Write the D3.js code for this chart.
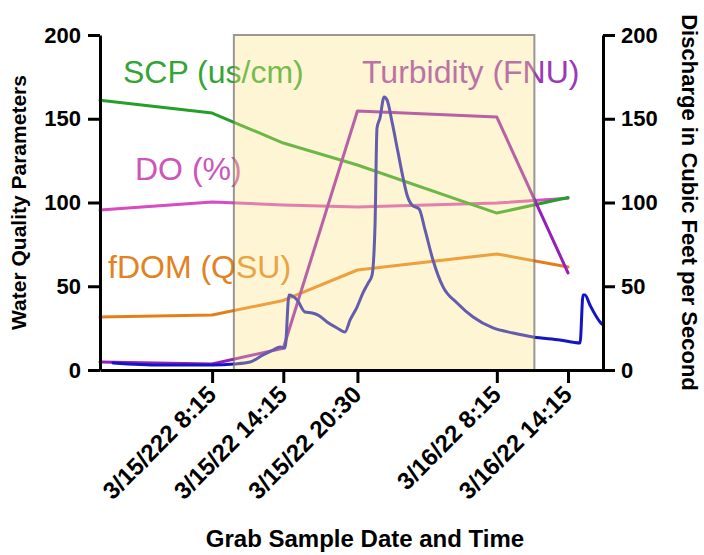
<!DOCTYPE html>
<meta charset="utf-8">
<title>Grab Samples and Discharge</title>
<style>
body {
  margin: 0;
  background: #fff;
}
text {
  font-family: "Liberation Sans", Arial, sans-serif;
}
.axis path, .axis line {
  stroke: #000;
  stroke-width: 3px;
}
.axis text {
  font-size: 22px;
  font-weight: bold;
  fill: #000;
}
.x.axis text {
  font-size: 24px;
}
.series {
  fill: none;
  stroke-width: 3px;
  stroke-linejoin: round;
  stroke-linecap: round;
}
</style>
<body>
<script src="https://d3js.org/d3.v7.min.js"></script>
<script>
// grab samples (left axis)
var sampleTimes = ["2022-03-14 22:48", "2022-03-15 08:15", "2022-03-15 14:15", "2022-03-15 20:30", "2022-03-16 08:15", "2022-03-16 14:15"];
var tickLabels = ["3/15/222 8:15", "3/15/22 14:15", "3/15/22 20:30", "3/16/22 8:15", "3/16/22 14:15"];
var scp = [161, 153.4, 135.5, 122.4, 93.7, 103];
var doPct = [95.5, 100.3, 98.5, 97.3, 99.7, 102.5];
var fdom = [31.6, 32.8, 41.5, 59.7, 69.3, 61.5];
var turbidity = [4.8, 3.6, 13, 154.6, 151, 58];

// discharge (right axis)
var dischargeTimes = [
  "2022-03-14 23:54", "2022-03-15 03:52", "2022-03-15 08:15", "2022-03-15 10:06", "2022-03-15 11:27",
  "2022-03-15 12:33", "2022-03-15 13:23", "2022-03-15 13:59", "2022-03-15 14:24", "2022-03-15 14:44",
  "2022-03-15 15:25", "2022-03-15 16:05", "2022-03-15 16:41", "2022-03-15 17:11", "2022-03-15 17:56",
  "2022-03-15 18:47", "2022-03-15 19:27", "2022-03-15 19:53", "2022-03-15 20:28", "2022-03-15 20:58",
  "2022-03-15 21:24", "2022-03-15 21:44", "2022-03-15 21:59", "2022-03-15 22:09", "2022-03-15 22:24",
  "2022-03-15 22:45", "2022-03-15 23:00", "2022-03-15 23:25", "2022-03-15 23:55", "2022-03-16 00:21",
  "2022-03-16 00:41", "2022-03-16 01:06", "2022-03-16 01:42", "2022-03-16 02:12", "2022-03-16 02:52",
  "2022-03-16 03:43", "2022-03-16 04:54", "2022-03-16 06:15", "2022-03-16 07:56", "2022-03-16 09:37",
  "2022-03-16 11:18", "2022-03-16 13:34", "2022-03-16 15:16", "2022-03-16 15:31", "2022-03-16 15:41",
  "2022-03-16 16:06", "2022-03-16 16:57", "2022-03-16 17:12"];
var discharge = [
  4.2, 3.0, 3.0, 3.6, 4.8,
  9.0, 11.9, 13.7, 13.1, 44.8,
  41.8, 34.6, 34.0, 32.8, 28.7,
  25.1, 22.7, 29.9, 37.6, 46.0,
  51.9, 56.7, 86.6, 144.5, 150.4,
  163.0, 161.2, 148.1, 130.1, 114.6,
  104.5, 98.5, 96.1, 83.6, 65.7,
  49.6, 40.0, 31.6, 25.1, 22.1,
  19.7, 17.9, 16.1, 44.8, 44.8,
  38.8, 28.7, 26.9];

var xDomain = ["2022-03-14 22:48", "2022-03-16 17:12"];
var shadeRange = ["2022-03-15 10:05", "2022-03-16 11:25"];
var yTicks = [0, 50, 100, 150, 200];

var parse = d3.timeParse("%Y-%m-%d %H:%M");

var w = 704,
    h = 555,
    m = {left: 100, right: 603, top: 35, bottom: 370};

var svg = d3.select("body").append("svg")
    .attr("width", w)
    .attr("height", h);

var x = d3.scaleTime()
    .domain(xDomain.map(parse))
    .range([m.left, m.right]);
var yL = d3.scaleLinear().domain([0, 200]).range([m.bottom, m.top]);
var yR = d3.scaleLinear().domain([0, 200]).range([m.bottom, m.top]);

var samples = sampleTimes.map(parse);

function series(values, yScale, times, curve) {
  return d3.line()
      .curve(curve || d3.curveLinear)
      .x(function(d, i) { return x(times[i]); })
      .y(function(d) { return yScale(d); })(values);
}

var lines = [
  {v: fdom, c: "rgb(230,125,25)"},
  {v: doPct, c: "rgb(215,75,195)"},
  {v: scp, c: "rgb(35,160,40)"},
  {v: turbidity, c: "rgb(150,30,185)"}
];

lines.forEach(function(s) {
  svg.append("path")
      .attr("class", "series")
      .attr("stroke", s.c)
      .attr("d", series(s.v, yL, samples));
});

svg.append("path")
    .attr("class", "series")
    .attr("stroke", "rgb(20,20,195)")
    .attr("d", series(discharge, yR, dischargeTimes.map(parse), d3.curveMonotoneX));

// series names
var names = [
  {t: "SCP (us/cm)", x: 123, y: 83, c: "rgb(50,165,50)"},
  {t: "DO (%)", x: 135, y: 180, c: "rgb(205,85,185)"},
  {t: "fDOM (QSU)", x: 108, y: 278, c: "rgb(225,130,35)"},
  {t: "Turbidity (FNU)", x: 362, y: 83, c: "rgb(155,55,185)"}
];
svg.selectAll(".name")
    .data(names)
  .enter().append("text")
    .attr("class", "name")
    .attr("x", function(d) { return d.x; })
    .attr("y", function(d) { return d.y; })
    .style("font-size", "32px")
    .style("fill", function(d) { return d.c; })
    .text(function(d) { return d.t; });

// storm window overlay
var s0 = parse(shadeRange[0]), s1 = parse(shadeRange[1]);
svg.append("rect")
    .attr("x", x(s0))
    .attr("y", m.top)
    .attr("width", x(s1) - x(s0))
    .attr("height", m.bottom - m.top)
    .attr("fill", "rgba(248,225,130,0.35)")
    .attr("stroke", "rgba(110,110,110,0.7)")
    .attr("stroke-width", 2);

// axes
svg.append("g")
    .attr("class", "axis")
    .attr("transform", "translate(" + m.left + ",0)")
    .call(d3.axisLeft(yL).tickValues(yTicks).tickSize(12).tickSizeOuter(0).tickPadding(7));

svg.append("g")
    .attr("class", "axis")
    .attr("transform", "translate(" + m.right + ",0)")
    .call(d3.axisRight(yR).tickValues(yTicks).tickSize(12).tickSizeOuter(0).tickPadding(6));

var xAxis = svg.append("g")
    .attr("class", "x axis")
    .attr("transform", "translate(0," + m.bottom + ")")
    .call(d3.axisBottom(x)
      .tickValues(samples.slice(1))
      .tickSize(13)
      .tickSizeOuter(0)
      .tickFormat(function(d, i) { return tickLabels[i]; }));

xAxis.selectAll("text")
    .attr("text-anchor", "end")
    .attr("dy", null)
    .attr("y", 0)
    .attr("transform", "translate(5,26) rotate(-45)");

svg.append("text")
    .attr("x", 365)
    .attr("y", 547)
    .attr("text-anchor", "middle")
    .style("font-size", "24px")
    .style("font-weight", "bold")
    .text("Grab Sample Date and Time");

svg.append("text")
    .attr("transform", "translate(26," + (m.top + m.bottom) / 2 + ") rotate(-90)")
    .attr("text-anchor", "middle")
    .style("font-size", "21px")
    .style("font-weight", "bold")
    .text("Water Quality Parameters");

svg.append("text")
    .attr("transform", "translate(682," + (m.top + m.bottom) / 2 + ") rotate(90)")
    .attr("text-anchor", "middle")
    .style("font-size", "22px")
    .style("font-weight", "bold")
    .text("Discharge in Cubic Feet per Second");
</script>
